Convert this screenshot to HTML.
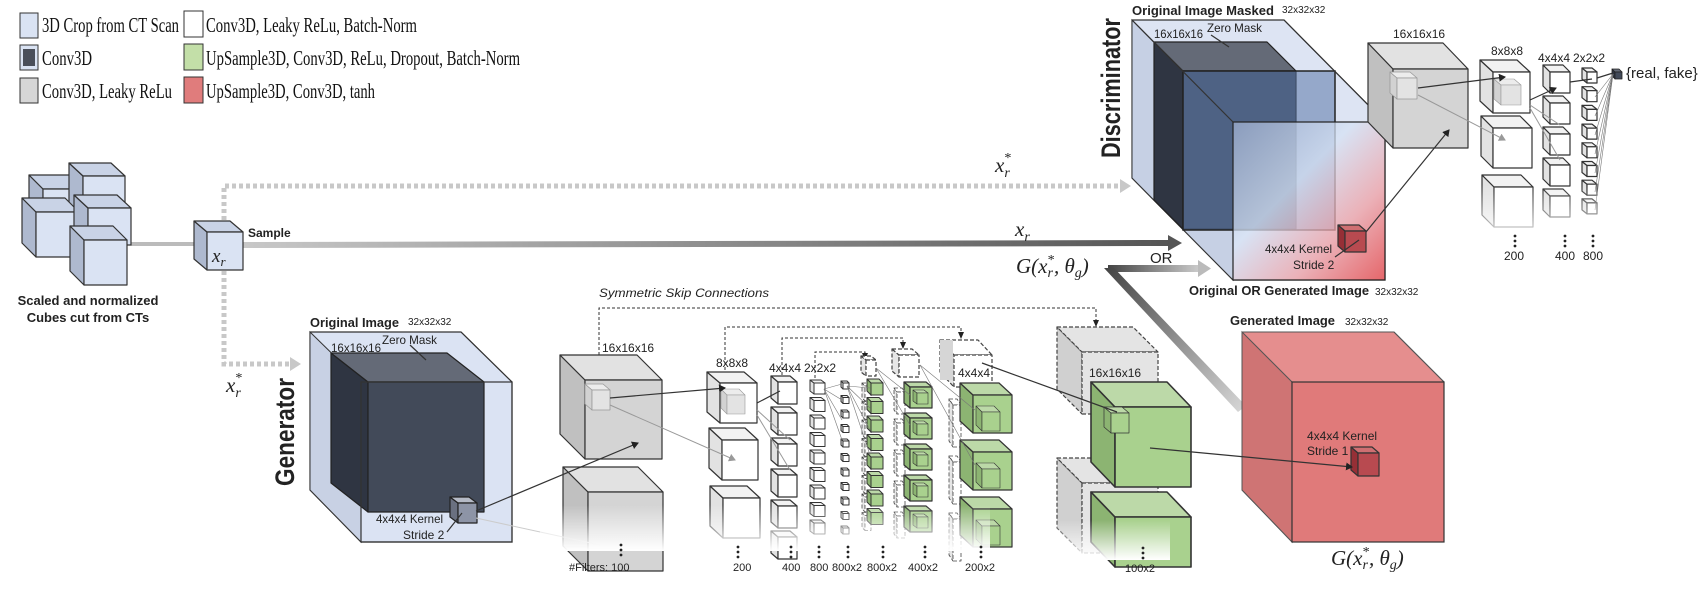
<!DOCTYPE html>
<html><head><meta charset="utf-8">
<style>
html,body{margin:0;padding:0;background:#fff;}
svg{display:block;}
.lg{font-family:"Liberation Serif",serif;font-size:21px;fill:#111;}
.s{font-family:"Liberation Sans",sans-serif;fill:#222;}
.b{font-weight:bold;}
.m{font-family:"Liberation Serif",serif;font-style:italic;fill:#222;}
</style></head>
<body>
<svg id="sv" width="1704" height="592" viewBox="0 0 1704 592" xmlns="http://www.w3.org/2000/svg">
<defs>
<linearGradient id="discF" x1="0" y1="0" x2="1" y2="1">
<stop offset="0" stop-color="#9fb0d0"/><stop offset="0.4" stop-color="#d6e2f4"/><stop offset="0.7" stop-color="#f0a0a4"/><stop offset="1" stop-color="#e83c3c"/></linearGradient>
<linearGradient id="mainA" x1="0" y1="0" x2="1" y2="0">
<stop offset="0" stop-color="#c8c8c8"/><stop offset="1" stop-color="#555"/></linearGradient>
<linearGradient id="orA" x1="0" y1="0" x2="1" y2="0">
<stop offset="0" stop-color="#444"/><stop offset="1" stop-color="#ccc"/></linearGradient>
<linearGradient id="diagA" x1="0" y1="0" x2="1" y2="1">
<stop offset="0" stop-color="#444"/><stop offset="1" stop-color="#d8d8d8"/></linearGradient>
<linearGradient id="fade" x1="0" y1="0" x2="0" y2="1">
<stop offset="0" stop-color="#fff" stop-opacity="0"/><stop offset="1" stop-color="#fff" stop-opacity="1"/></linearGradient>
<marker id="ah" markerWidth="8" markerHeight="8" refX="6" refY="4" orient="auto" markerUnits="userSpaceOnUse"><path d="M0,0 L7,4 L0,8 z" fill="#222"/></marker>
<marker id="ahg" markerWidth="8" markerHeight="8" refX="6" refY="4" orient="auto" markerUnits="userSpaceOnUse"><path d="M0,0 L7,4 L0,8 z" fill="#999"/></marker>
</defs>

<!-- Legend -->
<rect x="20" y="13" width="18" height="25" fill="#dae3f3" stroke="#333"/>
<rect x="20" y="45" width="18" height="25" fill="#dae3f3" stroke="#333"/>
<rect x="23" y="49" width="12" height="17" fill="#4a4f5a"/>
<rect x="20" y="78" width="18" height="25" fill="#d6d6d6" stroke="#333"/>
<rect x="184" y="11" width="19" height="26" fill="#fff" stroke="#333"/>
<rect x="184" y="44" width="19" height="26" fill="#c3dfa8" stroke="#333"/>
<rect x="184" y="77" width="19" height="26" fill="#e07c7c" stroke="#333"/>
<text class="lg" x="42" y="32" textLength="137" lengthAdjust="spacingAndGlyphs">3D Crop from CT Scan</text>
<text class="lg" x="42" y="65" textLength="50" lengthAdjust="spacingAndGlyphs">Conv3D</text>
<text class="lg" x="42" y="98" textLength="130" lengthAdjust="spacingAndGlyphs">Conv3D, Leaky ReLu</text>
<text class="lg" x="206" y="32" textLength="211" lengthAdjust="spacingAndGlyphs">Conv3D, Leaky ReLu, Batch-Norm</text>
<text class="lg" x="206" y="65" textLength="314" lengthAdjust="spacingAndGlyphs">UpSample3D, Conv3D, ReLu, Dropout, Batch-Norm</text>
<text class="lg" x="206" y="98" textLength="169" lengthAdjust="spacingAndGlyphs">UpSample3D, Conv3D, tanh</text>

<!-- arrows -->
<path d="M224,220 V186 H1122" fill="none" stroke="#c8c8c8" stroke-width="5" stroke-dasharray="4,3"/>
<path d="M1120,179 L1131,186 L1120,193 z" fill="#c8c8c8"/>
<path d="M224,271 V364 H292" fill="none" stroke="#c8c8c8" stroke-width="5" stroke-dasharray="4,3"/>
<path d="M290,357 L301,364 L290,371 z" fill="#c8c8c8"/>
<line x1="131" y1="244" x2="194" y2="244" stroke="#bbb" stroke-width="4"/>
<polygon points="243,242 1170,240 1170,246 243,248" fill="url(#mainA)"/>
<path d="M1168,235 L1182,243 L1168,251 z" fill="#555"/>
<polygon points="1108,265 1200,265 1200,272 1108,272" fill="url(#orA)"/>
<path d="M1198,260 L1211,268.5 L1198,277 z" fill="#bbb"/>
<polygon points="1104,268 1114,268 1246,406 1238,412" fill="url(#diagA)"/>

<!-- skip connections -->
<g fill="none" stroke="#333" stroke-width="1" stroke-dasharray="3,2">
<path d="M599,355 V308 H1096 V322"/>
<path d="M725,370 V327 H961 V334"/>
<path d="M782,375 V338 H903 V344"/>
<path d="M815,378 V352 H865 V355"/>
</g>
<g fill="#222">
<path d="M1093,320 L1099,320 L1096,327 z"/><path d="M958,332 L964,332 L961,339 z"/>
<path d="M900,342 L906,342 L903,349 z"/><path d="M862,353 L868,353 L865,360 z"/>
</g>

<g id="cubes"></g>

<!-- connector lines -->
<g stroke="#333" stroke-width="1.2" fill="none">
<line x1="1366" y1="232" x2="1449" y2="130" marker-end="url(#ah)"/>
<line x1="476" y1="511" x2="638" y2="443" marker-end="url(#ah)"/>
<line x1="610" y1="398" x2="725" y2="388" marker-end="url(#ah)"/>
<line x1="757" y1="403" x2="780" y2="391"/>
<line x1="982" y1="363" x2="1117" y2="412"/>
<line x1="1150" y1="448" x2="1352" y2="467" marker-end="url(#ah)"/>
<line x1="1418" y1="88" x2="1505" y2="77" marker-end="url(#ah)"/>
<line x1="1530" y1="100" x2="1556" y2="88" marker-end="url(#ah)"/>
<line x1="1570" y1="82" x2="1592" y2="79"/>
<line x1="1597" y1="78" x2="1613" y2="73"/>
<line x1="1211" y1="35" x2="1229" y2="47"/>
<line x1="410" y1="345" x2="426" y2="360"/>
<line x1="1359" y1="240" x2="1335" y2="257"/>
<line x1="462" y1="513" x2="447" y2="532"/>
</g>
<g stroke="#999" stroke-width="1" fill="none">
<line x1="1418" y1="95" x2="1505" y2="140" marker-end="url(#ahg)"/>
<line x1="610" y1="405" x2="735" y2="460" marker-end="url(#ahg)"/>
<line x1="757" y1="410" x2="790" y2="440"/><line x1="757" y1="415" x2="790" y2="470"/>
<line x1="1530" y1="105" x2="1560" y2="125"/><line x1="1530" y1="108" x2="1560" y2="160"/>
<line x1="476" y1="518" x2="600" y2="545" stroke="#ccc"/>
</g>
<g stroke="#777" stroke-width="0.6">
<line x1="1613" y1="74" x2="1595" y2="97"/><line x1="1613" y1="74" x2="1595" y2="116"/>
<line x1="1613" y1="74" x2="1595" y2="135"/><line x1="1613" y1="74" x2="1595" y2="154"/>
<line x1="1613" y1="74" x2="1595" y2="173"/><line x1="1613" y1="74" x2="1595" y2="192"/>
<line x1="1613" y1="74" x2="1595" y2="210"/>
<line x1="824" y1="389" x2="842" y2="384"/><line x1="824" y1="389" x2="842" y2="400"/>
<line x1="824" y1="389" x2="842" y2="420"/><line x1="824" y1="389" x2="842" y2="440"/>
<line x1="847" y1="386" x2="870" y2="388"/><line x1="847" y1="386" x2="870" y2="408"/>
<line x1="847" y1="386" x2="870" y2="430"/><line x1="847" y1="386" x2="870" y2="455"/>
<line x1="876" y1="368" x2="910" y2="395"/><line x1="876" y1="368" x2="910" y2="425"/>
<line x1="920" y1="365" x2="975" y2="410"/><line x1="920" y1="365" x2="975" y2="465"/>
</g>

<!-- fades -->
<rect x="1470" y="185" width="140" height="60" fill="url(#fade)"/>
<rect x="540" y="505" width="450" height="46" fill="url(#fade)"/>
<rect x="1040" y="520" width="130" height="40" fill="url(#fade)"/>

<!-- dots -->
<g fill="#222">
<circle cx="621" cy="545" r="1.4"/><circle cx="621" cy="550" r="1.4"/><circle cx="621" cy="555" r="1.4"/>
<circle cx="738" cy="547" r="1.4"/><circle cx="738" cy="552" r="1.4"/><circle cx="738" cy="557" r="1.4"/>
<circle cx="791" cy="547" r="1.4"/><circle cx="791" cy="552" r="1.4"/><circle cx="791" cy="557" r="1.4"/>
<circle cx="819" cy="547" r="1.4"/><circle cx="819" cy="552" r="1.4"/><circle cx="819" cy="557" r="1.4"/>
<circle cx="848" cy="547" r="1.4"/><circle cx="848" cy="552" r="1.4"/><circle cx="848" cy="557" r="1.4"/>
<circle cx="883" cy="547" r="1.4"/><circle cx="883" cy="552" r="1.4"/><circle cx="883" cy="557" r="1.4"/>
<circle cx="925" cy="547" r="1.4"/><circle cx="925" cy="552" r="1.4"/><circle cx="925" cy="557" r="1.4"/>
<circle cx="981" cy="547" r="1.4"/><circle cx="981" cy="552" r="1.4"/><circle cx="981" cy="557" r="1.4"/>
<circle cx="1143" cy="548" r="1.4"/><circle cx="1143" cy="553" r="1.4"/><circle cx="1143" cy="558" r="1.4"/>
<circle cx="1515" cy="236" r="1.4"/><circle cx="1515" cy="241" r="1.4"/><circle cx="1515" cy="246" r="1.4"/>
<circle cx="1565" cy="236" r="1.4"/><circle cx="1565" cy="241" r="1.4"/><circle cx="1565" cy="246" r="1.4"/>
<circle cx="1593" cy="236" r="1.4"/><circle cx="1593" cy="241" r="1.4"/><circle cx="1593" cy="246" r="1.4"/>
</g>

<!-- texts -->
<text class="s b" x="88" y="305" font-size="13" text-anchor="middle">Scaled and normalized</text>
<text class="s b" x="88" y="322" font-size="13" text-anchor="middle">Cubes cut from CTs</text>
<text class="s b" x="248" y="237" font-size="12">Sample</text>
<text class="m" x="212" y="262" font-size="19">x<tspan font-size="13" dy="4">r</tspan></text>
<text class="m" x="1015" y="236" font-size="21">x<tspan font-size="14" dy="5">r</tspan></text>
<text class="m" x="995" y="172" font-size="21">x<tspan font-size="14" dy="5">r</tspan><tspan font-size="14" dx="-6" dy="-15">*</tspan></text>
<text class="m" x="226" y="392" font-size="21">x<tspan font-size="14" dy="5">r</tspan><tspan font-size="14" dx="-6" dy="-15">*</tspan></text>
<text class="m" x="1016" y="273" font-size="21">G(x<tspan font-size="14" dy="4">r</tspan><tspan font-size="14" dx="-6" dy="-13">*</tspan><tspan dy="9">, θ</tspan><tspan font-size="14" dy="4">g</tspan><tspan dy="-4">)</tspan></text>
<text class="m" x="1331" y="565" font-size="21">G(x<tspan font-size="14" dy="4">r</tspan><tspan font-size="14" dx="-6" dy="-13">*</tspan><tspan dy="9">, θ</tspan><tspan font-size="14" dy="4">g</tspan><tspan dy="-4">)</tspan></text>
<text class="s" x="1150" y="263" font-size="15">OR</text>

<text class="s b" font-size="27" transform="translate(1120,158) rotate(-90)" textLength="140" lengthAdjust="spacingAndGlyphs">Discriminator</text>
<text class="s b" font-size="27" transform="translate(294,486) rotate(-90)" textLength="108" lengthAdjust="spacingAndGlyphs">Generator</text>

<g class="s" font-size="12">
<text class="b" x="1132" y="15" font-size="13" textLength="142" lengthAdjust="spacingAndGlyphs">Original Image Masked</text>
<text x="1282" y="13" font-size="10">32x32x32</text>
<text x="1154" y="38" font-size="12" textLength="49" lengthAdjust="spacingAndGlyphs">16x16x16</text>
<text x="1207" y="32" textLength="55" lengthAdjust="spacingAndGlyphs">Zero Mask</text>
<text x="1265" y="253" textLength="67" lengthAdjust="spacingAndGlyphs">4x4x4 Kernel</text>
<text x="1293" y="269">Stride 2</text>
<text class="b" x="1189" y="295" font-size="13" textLength="180" lengthAdjust="spacingAndGlyphs">Original OR Generated Image</text>
<text x="1375" y="295" font-size="10">32x32x32</text>
<text x="1393" y="38">16x16x16</text>
<text x="1491" y="55">8x8x8</text>
<text x="1538" y="62">4x4x4</text>
<text x="1573" y="62">2x2x2</text>
<text x="1626" y="78" font-size="15">{real, fake}</text>
<text x="1504" y="260">200</text><text x="1555" y="260">400</text><text x="1583" y="260">800</text>

<text class="b" x="310" y="327" font-size="13" textLength="89" lengthAdjust="spacingAndGlyphs">Original Image</text>
<text x="408" y="325" font-size="10">32x32x32</text>
<text x="331" y="352" textLength="50" lengthAdjust="spacingAndGlyphs">16x16x16</text>
<text x="382" y="344" textLength="55" lengthAdjust="spacingAndGlyphs">Zero Mask</text>
<text x="376" y="523" textLength="67" lengthAdjust="spacingAndGlyphs">4x4x4 Kernel</text>
<text x="403" y="539">Stride 2</text>
<text x="602" y="352">16x16x16</text>
<text x="599" y="297" font-style="italic" textLength="170" lengthAdjust="spacingAndGlyphs">Symmetric Skip Connections</text>
<text x="716" y="367">8x8x8</text>
<text x="769" y="372">4x4x4</text>
<text x="804" y="372">2x2x2</text>
<text x="958" y="377">4x4x4</text>
<text x="1089" y="377">16x16x16</text>
<text class="b" x="1230" y="325" font-size="13" textLength="105" lengthAdjust="spacingAndGlyphs">Generated Image</text>
<text x="1345" y="325" font-size="10">32x32x32</text>
<text x="1307" y="440">4x4x4 Kernel</text>
<text x="1307" y="455">Stride 1</text>
<g font-size="11">
<text x="569" y="571">#Filters: 100</text>
<text x="733" y="571">200</text><text x="782" y="571">400</text><text x="810" y="571">800</text>
<text x="832" y="571">800x2</text><text x="867" y="571">800x2</text><text x="908" y="571">400x2</text>
<text x="965" y="571">200x2</text><text x="1125" y="572">100x2</text>
</g>
</g>
</svg>
<script>
(function(){
var NS="http://www.w3.org/2000/svg",g=document.getElementById("cubes");
function el(t,a){var e=document.createElementNS(NS,t);for(var k in a)e.setAttribute(k,a[k]);g.appendChild(e);return e;}
var C={blue:["#dae3f3","#c9d3e6","#aeb9cf","#333"],dark:["#424a59","#646a77","#2f3542","#222"],
gray:["#d4d4d4","#e2e2e2","#c0c0c0","#333"],white:["#ffffff","#f2f2f2","#e2e2e2","#333"],
green:["#a9d18e","#bcd9a8","#8cb472","#333"],red:["#e07a7a","#e89a9a","#c96a6a","#555"],
kred:["#b84a50","#cf6f72","#962f36","#333"],kgray:["#8d94a6","#b5bac6","#6a7080","#222"],
dash:["#ffffff","#ffffff","#e6e6e6","#444"],dgray:["#e4e4e4","#e4e4e4","#d0d0d0","#444"],
lgray:["#e3e3e3","#ececec","#d2d2d2","#999"]};
function cube(x,y,w,h,dx,dy,c,o){o=o||{};var s={stroke:c[3],"stroke-width":o.sw||1.2,"stroke-linejoin":"round"};
if(o.dash)s["stroke-dasharray"]="4,2";if(o.op)s["fill-opacity"]=o.op;
var a=x-dx,b=y-dy;
function p(pts,f){var q={};for(var k in s)q[k]=s[k];q.points=pts;q.fill=f;el("polygon",q);}
p(a+","+b+" "+x+","+y+" "+x+","+(y+h)+" "+a+","+(b+h),c[2]);
p(a+","+b+" "+(a+w)+","+b+" "+(x+w)+","+y+" "+x+","+y,c[1]);
var q={};for(var k in s)q[k]=s[k];q.x=x;q.y=y;q.width=w;q.height=h;q.fill=o.front||c[0];el("rect",q);}
// left stack
cube(43,189,43,45,14,14,C.blue);cube(83,176,42,41,14,13,C.blue);cube(36,212,43,45,14,14,C.blue);
cube(88,208,43,37,14,13,C.blue);cube(84,240,43,45,14,14,C.blue);
cube(207,232,36,38,13,11,C.blue);
// discriminator big
el("polygon",{points:"1132,20 1284,20 1385,122 1385,280 1233,280 1132,178",fill:"#dde4f3",stroke:"#333","stroke-width":1.2});
el("polygon",{points:"1132,20 1233,122 1233,280 1132,178",fill:"#c6d0e4",stroke:"#333","stroke-width":1});
cube(1183,71,113,158,29,29,C.dark);
el("rect",{x:1183,y:71,width:152,height:159,fill:"#5a77a8","fill-opacity":0.55,stroke:"#222","stroke-width":1.5});
el("rect",{x:1233,y:122,width:152,height:158,fill:"url(#discF)","fill-opacity":0.75,stroke:"#222","stroke-width":1.2});
el("line",{x1:1132,y1:20,x2:1233,y2:122,stroke:"#333","stroke-width":1.2});
el("line",{x1:1284,y1:20,x2:1385,y2:122,stroke:"#333","stroke-width":1.2});
cube(1345,231,21,21,7,6,C.kred);
// disc layers
cube(1393,69,75,79,25,26,C.gray);cube(1397,78,20,21,7,6,C.lgray,{sw:0.8});
cube(1493,72,37,41,13,12,C.white);cube(1501,85,20,20,7,6,C.lgray,{sw:0.6});
cube(1493,128,39,40,12,12,C.white);cube(1494,187,39,40,12,12,C.white);
for(var i=0;i<5;i++)cube(1550,72+31*i,20,21,7,7,C.white);
for(var i=0;i<8;i++)cube(1587,72+18.7*i,10,11,5,4,C.white);
cube(1615,72,7,7,3,3,C.dark,{sw:0.8});
// generator original
el("polygon",{points:"310,332 461,332 512,382 512,542 361,542 310,490",fill:"#dbe3f3",stroke:"#333","stroke-width":1.2});
el("polygon",{points:"310,332 361,382 361,542 310,490",fill:"#c8d1e4",stroke:"#333","stroke-width":1});
el("line",{x1:461,y1:332,x2:512,y2:382,stroke:"#333"});
cube(368,382,116,130,37,29,C.dark);
el("rect",{x:361,y:382,width:151,height:160,fill:"none",stroke:"#333","stroke-width":1.2});
cube(458,503,19,20,8,6,C.kgray);
// gen layers
cube(585,380,77,79,25,25,C.gray);cube(592,390,18,20,7,6,C.lgray,{sw:0.8});
cube(588,492,75,79,25,25,C.gray);
cube(720,383,37,40,13,11,C.white);cube(727,395,18,19,6,6,C.lgray,{sw:0.6});
cube(722,440,36,40,13,12,C.white);cube(723,498,37,40,13,12,C.white);
for(var i=0;i<6;i++)cube(778,382+31*i,19,22,7,6,C.white);
for(var i=0;i<9;i++)cube(814,383+17.5*i,11,11,4,3,C.white,{sw:1});
for(var i=0;i<11;i++)cube(843,383+14.5*i,6,6,2,2,C.white,{sw:1});
cube(866,360,10,16,5,4,C.dash,{dash:1});
for(var i=0;i<8;i++){cube(865,386+18.5*i,6,15,3,3,C.dash,{dash:1,sw:0.8});cube(871,383+18.5*i,12,12,4,4,C.green,{sw:1});}
cube(899,355,20,22,7,6,C.dash,{dash:1});
for(var i=0;i<5;i++){cube(897,392+31*i,8,22,3,4,C.dash,{dash:1,sw:0.8});cube(910,387+31*i,22,21,6,5,C.green);cube(917,393+31*i,11,11,4,3,C.green,{sw:0.6});}
cube(954,355,38,32,14,15,C.dash,{dash:1});
el("rect",{x:940,y:340,width:13,height:40,fill:"#d6d6d6"});
for(var i=0;i<3;i++){cube(953,405+57*i,8,42,4,6,C.dash,{dash:1,sw:0.8});cube(973,395+57*i,39,38,13,12,C.green);cube(982,412+57*i,18,19,6,6,C.green,{sw:0.6});}
cube(1082,352,76,62,25,25,C.dgray,{dash:1});
cube(1082,483,76,70,25,25,C.dgray,{dash:1});
cube(1115,407,76,80,24,25,C.green,{sw:1.6});cube(1111,413,18,20,7,6,C.green,{sw:0.7});
cube(1115,517,76,50,24,25,C.green,{sw:1.6});
// red generated
el("polygon",{points:"1242,332 1394,332 1444,382 1444,542 1292,542 1242,490",fill:"#e58e8e",stroke:"#555","stroke-width":1});
el("polygon",{points:"1242,332 1292,382 1292,542 1242,490",fill:"#cf7474",stroke:"#555","stroke-width":1});
el("line",{x1:1394,y1:332,x2:1444,y2:382,stroke:"#555"});
el("rect",{x:1292,y:382,width:152,height:160,fill:"#e07a7a",stroke:"#333","stroke-width":1.2});
cube(1358,453,21,23,7,6,C.kred);
})();
</script>
</body></html>
